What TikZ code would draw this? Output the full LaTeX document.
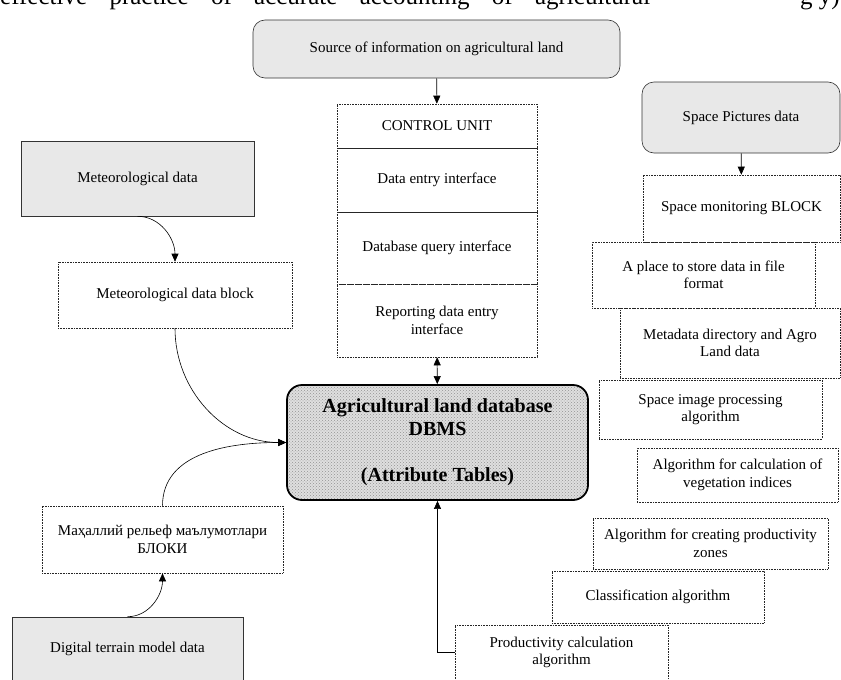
\documentclass[tikz,border=0pt]{standalone}
\usepackage{fontspec}
\setmainfont{Liberation Serif}
\usetikzlibrary{arrows.meta,patterns}

\tikzset{
  boxsize/.style 2 args={minimum width=#1pt, minimum height=#2pt},
  srcbox/.style={draw=black!80, fill=gray!18, rounded corners=12pt, line width=0.6pt, align=center},
  databox/.style={draw=black!80, fill=gray!18, line width=0.6pt, align=center},
  dotbox/.style={draw=black!85, densely dotted, line width=0.6pt, align=center},
  dbbox/.style={draw=black, line width=1.8pt, rounded corners=15pt, align=center,
    preaction={fill=gray!25}, pattern=crosshatch dots, pattern color=gray!85,
    font=\fontsize{20}{23}\selectfont\bfseries},
  link/.style={line width=0.6pt}
}

\begin{document}
\begin{tikzpicture}[x=1pt, y=-1pt, font=\fontsize{15}{17.5}\selectfont,
    >={Triangle[length=8pt,width=7pt]}]
  \useasboundingbox (0,0) rectangle (841,680);

  % line of page text above the figure
  \begin{scope}
    \clip (0,0) rectangle (841,680);
    \node[anchor=base west, inner sep=0pt, font=\fontsize{25}{30}\selectfont] (pagetext) at (0,5)
      {\makebox[650pt][s]{effective practice of accurate accounting of agricultural}};
    \node[anchor=base east, inner sep=0pt, font=\fontsize{25}{30}\selectfont] (pageend) at (840,5) {g y)};
  \end{scope}

  % source and control unit
  \draw (436.5,49) node[srcbox, boxsize={367}{58}](src){Source of information on agricultural land};
  \draw (437,126) node[dotbox, boxsize={200}{44}](cu){CONTROL UNIT};
  \draw (437,180) node[dotbox, boxsize={200}{64}](dei){Data entry interface};
  \draw (437,248) node[dotbox, boxsize={200}{72}](dqi){Database query interface};
  \draw (437,320.5) node[dotbox, boxsize={200}{73}](rdi){Reporting data entry\\interface};

  % database
  \draw (437.5,442.5) node[dbbox, boxsize={301}{115}](dbms){Agricultural land database\\DBMS\\[23pt](Attribute Tables)};

  % left inputs
  \draw (137.5,178.5) node[databox, boxsize={233}{75}](metdata){Meteorological data};
  \draw (175,295) node[dotbox, boxsize={234}{66}](metblock){Meteorological data block};
  \draw (162.5,539.5) node[dotbox, boxsize={241}{67}](relief){Маҳаллий рельеф маълумотлари\\БЛОКИ};
  \draw (127.5,648.5) node[databox, boxsize={231}{63}](dtm){Digital terrain model data};

  % space data column
  \draw (741,117.5) node[srcbox, boxsize={198}{71}](spacepic){Space Pictures data};
  \draw (741.5,208.5) node[dotbox, boxsize={197}{67}](spacemon){Space monitoring BLOCK};
  \draw (703.5,275) node[dotbox, boxsize={223}{66}](store){A place to store data in file\\format};
  \draw (730,343) node[dotbox, boxsize={220}{70}](meta){Metadata directory and Agro\\Land data};
  \draw (710.5,409.5) node[dotbox, boxsize={223}{59}](imgproc){Space image processing\\algorithm};
  \draw (737.5,475) node[dotbox, boxsize={201}{54}](veg){Algorithm for calculation of\\vegetation indices};
  \draw (710.5,543.5) node[dotbox, boxsize={235}{51}](zones){Algorithm for creating productivity\\zones};
  \draw (658,597) node[dotbox, boxsize={212}{52}](classif){Classification algorithm};
  \draw (561.5,652.5) node[dotbox, boxsize={213}{55}](prodcalc){Productivity calculation\\algorithm};

  % connectors
  \draw[link,->] (src) -- (cu);
  \draw[link,<->] (rdi) -- (dbms);
  \draw[link,->] (spacepic) -- (spacemon);
  \draw[link,->] (metdata.south) to[out=0,in=90] (metblock.north);
  \draw[link,->] (metblock.south) to[out=-90,in=180] (dbms.west);
  \draw[link,->] (relief.north) to[out=90,in=180] (dbms.west);
  \draw[link,->] (dtm.north) to[out=0,in=-90] (relief.south);
  \draw[link,->] (prodcalc.west) -| (dbms.south);
\end{tikzpicture}
\end{document}
